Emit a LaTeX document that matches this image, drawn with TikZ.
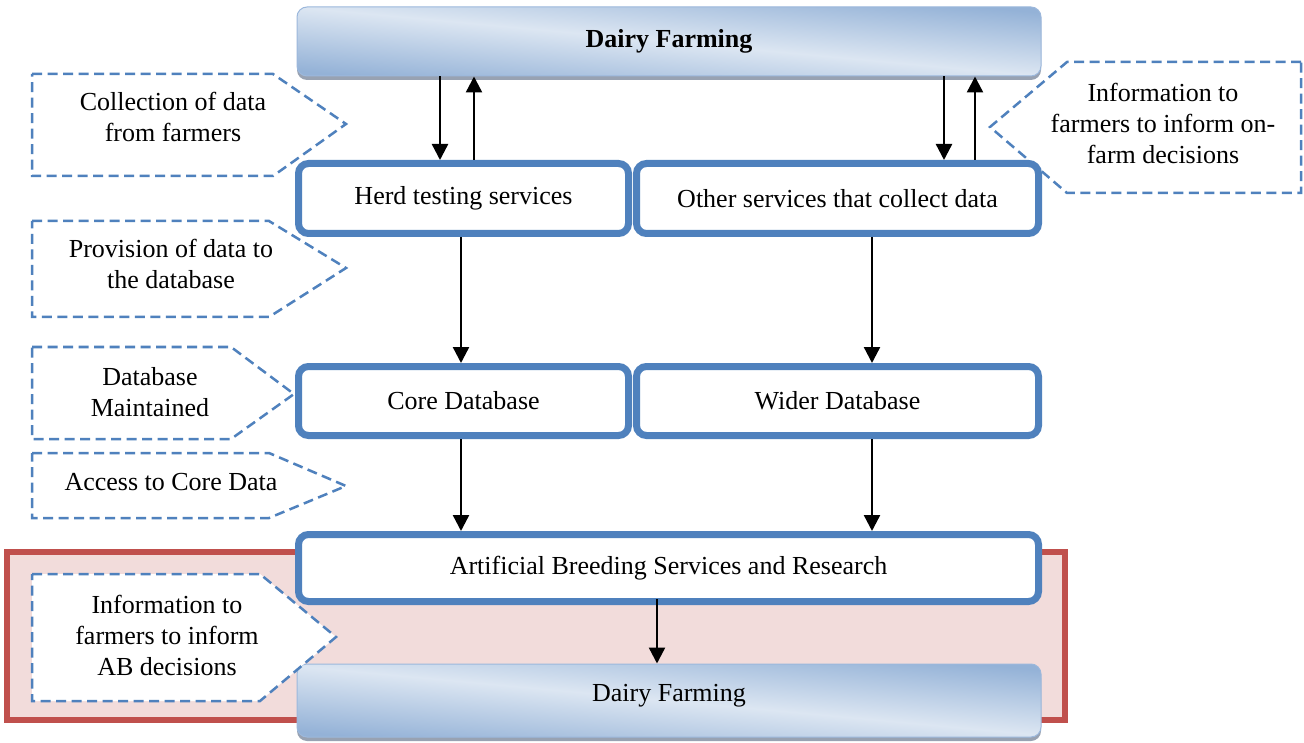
\documentclass[tikz,border=0pt]{standalone}
\usepackage{fontspec}
\setmainfont{Liberation Serif}
\usetikzlibrary{arrows.meta,shadows}
\definecolor{boxblue}{HTML}{4F81BD}
\definecolor{barA}{HTML}{94B2D7}
\definecolor{barB}{HTML}{DCE6F2}
\definecolor{barEdge}{HTML}{9CB8DC}
\definecolor{shadowgray}{HTML}{98A2B2}
\definecolor{redB}{HTML}{C0504D}
\definecolor{pinkF}{HTML}{F2DCDB}
\newcommand\fsz{\fontsize{26}{31}\selectfont}
\tikzset{
  box/.style={draw=boxblue, line width=7pt, rounded corners=10pt, fill=white,
    font=\fsz, align=center, inner sep=0pt},
  bar/.style={rounded corners=10pt, shading=axis, top color=barA, bottom color=barA,
    middle color=barB, shading angle=-5.3,
    draw=barEdge, line width=1pt, font=\fsz, inner sep=0pt,
    drop shadow={shadow xshift=0pt, shadow yshift=-4pt, fill=shadowgray, opacity=1}},
  arr/.style={line width=2.4pt, -{Triangle[length=16pt,width=16pt]}},
  callout/.style={draw=boxblue, line width=2.5pt, dash pattern=on 10pt off 5.5pt},
  ctext/.style={font=\fsz, align=center, inner sep=0pt}
}
\begin{document}
\begin{tikzpicture}[x=1pt,y=-1pt]
\useasboundingbox[fill=white] (0,0) rectangle (1304,743);

% red highlight area
\draw[draw=redB, fill=pinkF, line width=6.5pt] (7,552) rectangle (1065,720);

% bars
\node[bar, minimum width=744pt, minimum height=69pt] (top) at (669,41.5) {\bfseries Dairy Farming};
\node[bar, minimum width=744pt, minimum height=73pt] (bottom) at (669,700.5) {};
\node[ctext] (bottomtext) at (669,696) {Dairy Farming};

% boxes
\node[box, minimum width=330pt, minimum height=70pt] (herd) at (463.5,198.5) {Herd testing services};
\node[box, minimum width=402pt, minimum height=70pt] (other) at (837.5,198.5) {Other services that collect data};
\node[box, minimum width=330pt, minimum height=69pt] (core) at (463.5,401) {Core Database};
\node[box, minimum width=402pt, minimum height=69pt] (wider) at (837.5,401) {Wider Database};
\node[box, minimum width=740pt, minimum height=67pt] (ab) at (668.5,568) {Artificial Breeding Services and Research};

% arrows
\draw[arr] (top.south -| 440,0) -- (herd.north -| 440,0);
\draw[arr] (herd.north -| 474,0) -- (top.south -| 474,0);
\draw[arr] (top.south -| 944,0) -- (other.north -| 944,0);
\draw[arr] (other.north -| 975,0) -- (top.south -| 975,0);
\draw[arr] (herd.south -| 461,0) -- (core.north -| 461,0);
\draw[arr] (other.south -| 872,0) -- (wider.north -| 872,0);
\draw[arr] (core.south -| 461,0) -- (ab.north -| 461,0);
\draw[arr] (wider.south -| 872,0) -- (ab.north -| 872,0);
\draw[arr] ([yshift=6pt]ab.south -| 657,0) -- (bottom.north -| 657,0);

% callouts
\draw[callout] (32,74) -- (273,74) -- (346,124) -- (273,176) -- (32,176) -- cycle;
\node[ctext] (c1) at (173,117) {Collection of data\\from farmers};

\draw[callout] (32,221) -- (269,221) -- (346,268) -- (269,317) -- (32,317) -- cycle;
\node[ctext] (c2) at (171,264) {Provision of data to\\the database};

\draw[callout] (32,347) -- (231,347) -- (294,394) -- (231,439) -- (32,439) -- cycle;
\node[ctext] (c3) at (150,392) {Database\\Maintained};

\draw[callout] (32,453) -- (269,453) -- (346,486) -- (269,518) -- (32,518) -- cycle;
\node[ctext] (c4) at (171,482) {Access to Core Data};

\draw[callout, fill=white] (32,574) -- (260,574) -- (336,637) -- (260,701) -- (32,701) -- cycle;
\node[ctext] (c5) at (167,635) {Information to\\farmers to inform\\AB decisions};

\draw[callout] (1301,62) -- (1067,62) -- (990,127) -- (1067,193) -- (1301,193) -- cycle;
\node[ctext] (c6) at (1163,123) {Information to\\farmers to inform on-\\farm decisions};
\end{tikzpicture}
\end{document}
